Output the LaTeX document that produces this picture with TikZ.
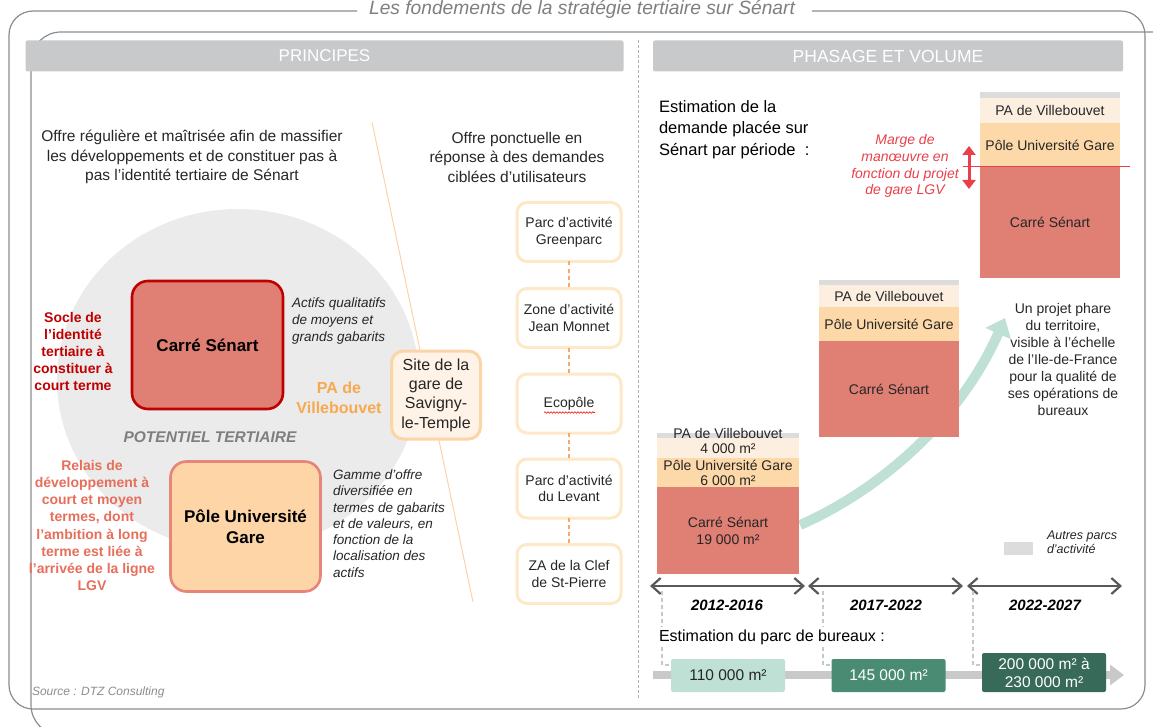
\documentclass[tikz,border=0pt]{standalone}
\usepackage{fontspec}
\setmainfont{Liberation Sans}
\usetikzlibrary{arrows.meta,decorations.pathmorphing,calc}
\definecolor{framegray}{HTML}{8C8C8C}
\definecolor{headgray}{HTML}{C8C9CB}
\definecolor{circlegray}{HTML}{EBEBEB}
\definecolor{salmon}{HTML}{E07F73}
\definecolor{darkred}{HTML}{C00000}
\definecolor{peach}{HTML}{FDD8A8}
\definecolor{pulefill}{HTML}{FDD5A6}
\definecolor{peachborder}{HTML}{E8857A}
\definecolor{paleorange}{HTML}{FDEFE0}
\definecolor{orangetxt}{HTML}{F8A94E}
\definecolor{relais}{HTML}{E66E5A}
\definecolor{siteborder}{HTML}{FCD5A7}
\definecolor{sitefill}{HTML}{FEF3E6}
\definecolor{boxborder}{HTML}{FDE9C7}
\definecolor{dashorange}{HTML}{F5A870}
\definecolor{lineorange}{HTML}{FBD3A8}
\definecolor{margered}{HTML}{E8404A}
\definecolor{mint}{HTML}{BFE0D5}
\definecolor{midgreen}{HTML}{4A8B73}
\definecolor{darkgreen}{HTML}{376A58}
\definecolor{arrowgray}{HTML}{595959}
\definecolor{legendgray}{HTML}{DCDCDC}
\definecolor{txt}{HTML}{262626}
\definecolor{titlegray}{HTML}{7F7F7F}
\definecolor{vdash}{HTML}{C8C8C8}
\newcommand\fsz[2]{\fontsize{#1}{#2}\selectfont}
\begin{document}
\begin{tikzpicture}[x=1pt,y=-1pt,
  every node/.style={inner sep=0pt, outer sep=0pt, text=txt},
  mbox/.style={draw=boxborder, line width=3pt, fill=white, rounded corners=10pt,
    minimum width=104pt, minimum height=59pt, align=center, font=\fsz{14}{16.7}},
  band/.style={minimum width=#1, minimum height=10pt, align=center, font=\fsz{14}{15}},
  yearlab/.style={font=\fsz{15}{18}\bfseries\itshape, text=black},
  parc/.style={rounded corners=2pt, minimum height=33pt, align=center, font=\fsz{15.5}{18}},
  tl/.style={arrowgray, line width=2.2pt, {Straight Barb[length=9pt,width=16pt]}-{Straight Barb[length=9pt,width=16pt]}},
  vd/.style={vdash, line width=1.5pt, dash pattern=on 4pt off 3pt},
]
\useasboundingbox (0,0) rectangle (1153,727);

% ---------- frames ----------
\draw[framegray, line width=1.2pt, rounded corners=24pt]
  (357,11) -- (9,11) -- (9,709) -- (1145,709) -- (1145,11) -- (812,11);
\begin{scope}
  \clip (0,0) rectangle (1153,727);
  \draw[framegray, line width=1.2pt, rounded corners=30pt]
    (1175,32) -- (31,32) -- (31,735) -- (120,735);
\end{scope}
\node[font=\fsz{19.2}{22}\itshape, text=titlegray] (title) at (582,9) {Les fondements de la stratégie tertiaire sur Sénart};

% ---------- headers ----------
\node[fill=headgray, rounded corners=2pt, minimum width=598pt, minimum height=31pt,
  text=white, font=\fsz{17}{20}] (h1) at (324.5,56) {PRINCIPES};
\node[fill=headgray, rounded corners=2pt, minimum width=470pt, minimum height=31pt,
  text=white, font=\fsz{17.5}{20}] (h2) at (888,56) {PHASAGE ET VOLUME};
\coordinate (sepT) at (638,40);
\coordinate (sepB) at (638,700);
\draw[framegray!70, line width=0.9pt, dash pattern=on 3pt off 2pt] (sepT) -- (sepB);

% ---------- left panel ----------
\node[align=center, font=\fsz{15.5}{19.5}] (offre1) at (192,157)
  {Offre régulière et maîtrisée afin de massifier\\les développements et de constituer pas à\\pas l’identité tertiaire de Sénart};
\fill[circlegray] (238,380) ellipse [x radius=181pt, y radius=171pt];
\coordinate (oA) at (372,122);
\coordinate (oB) at (473,602);
\draw[lineorange, line width=1pt] (oA) -- (oB);

\node[draw=darkred, fill=salmon, line width=2.6pt, rounded corners=16pt,
  minimum width=151pt, minimum height=128pt, font=\fsz{17}{20}\bfseries, text=black] (cs) at (207.5,345) {Carré Sénart};
\node[align=center, font=\fsz{14}{17}\bfseries, text=darkred] (socle) at (73,351)
  {Socle de\\l'identité\\tertiaire à\\constituer à\\court terme};
\node[anchor=west, align=left, font=\fsz{13.5}{16.7}\itshape] (actifs) at (292,321)
  {Actifs qualitatifs\\de moyens et\\grands gabarits};
\node[align=center, font=\fsz{16}{20}\bfseries, text=orangetxt] (pav) at (339,398) {PA de\\Villebouvet};
\node[font=\fsz{15.5}{18}\bfseries\itshape, text=titlegray] (pot) at (210,437) {POTENTIEL TERTIAIRE};

\node[draw=peachborder, fill=pulefill, line width=2.6pt, rounded corners=16pt,
  minimum width=150pt, minimum height=130pt, align=center, font=\fsz{17}{20.7}\bfseries, text=black] (pug) at (245.5,526.5)
  {Pôle Université\\Gare};
\node[align=center, font=\fsz{14}{17.1}\bfseries, text=relais] (relais) at (92,525.5)
  {Relais de\\développement à\\court et moyen\\termes, dont\\l’ambition à long\\terme est liée à\\l’arrivée de la ligne\\LGV};
\node[anchor=west, align=left, font=\fsz{13.5}{16.3}\itshape] (gamme) at (333,523.5)
  {Gamme d’offre\\diversifiée en\\termes de gabarits\\et de valeurs, en\\fonction de la\\localisation des\\actifs};

\node[draw=siteborder, fill=sitefill, line width=3pt, rounded corners=12pt,
  minimum width=89pt, minimum height=88pt, align=center, font=\fsz{16}{19.4}] (site) at (436,395)
  {Site de la\\gare de\\Savigny-\\le-Temple};

% ---------- middle column ----------
\node[align=center, font=\fsz{15.5}{19.5}] (offre2) at (517,157)
  {Offre ponctuelle en\\réponse à des demandes\\ciblées d’utilisateurs};
\node[mbox] (b1) at (569,232) {Parc d’activité\\Greenparc};
\node[mbox] (b2) at (569,318) {Zone d’activité\\Jean Monnet};
\node[mbox] (b3) at (569,403.5) {Ecopôle};
\node[mbox] (b4) at (569,488.5) {Parc d’activité\\du Levant};
\node[mbox] (b5) at (569,574) {ZA de la Clef\\de St-Pierre};
\foreach \a/\b in {b1/b2,b2/b3,b3/b4,b4/b5}
  \draw[dashorange, line width=1.1pt, dash pattern=on 4pt off 3pt] (\a.south) -- (\b.north);
\draw[red, line width=0.6pt, decorate, decoration={snake, amplitude=0.8pt, segment length=3pt}]
  ($(b3.center)+(-25,9)$) -- ($(b3.center)+(26,9)$);

% ---------- right panel ----------
\node[anchor=west, align=left, font=\fsz{16.5}{21.3}, text=black] (estim) at (659,129.5)
  {Estimation de la\\demande placée sur\\Sénart par période~~:};

% growth arrow (behind bars)
\coordinate (gA) at (800,525);
\coordinate (gB) at (1005,318);
\draw[mint, line width=10pt, -{Triangle[length=17pt,width=27pt]}]
  (gA) .. controls (880,490) and (960,420) .. (gB);

% bar 3
\fill[legendgray] (980,92) rectangle (1120,98);
\node[band=140pt, fill=paleorange, minimum height=25pt] (c3pa) at (1050,110.5) {PA de Villebouvet};
\node[band=140pt, fill=peach, minimum height=44pt] (c3pu) at (1050,145) {Pôle Université Gare};
\node[band=140pt, fill=salmon, minimum height=111pt] (c3cs) at (1050,222.5) {Carré Sénart};
% bar 2
\fill[legendgray] (819,280) rectangle (959,285);
\node[band=140pt, fill=paleorange, minimum height=22pt] (c2pa) at (889,296) {PA de Villebouvet};
\node[band=140pt, fill=peach, minimum height=34pt] (c2pu) at (889,324) {Pôle Université Gare};
\node[band=140pt, fill=salmon, minimum height=96pt] (c2cs) at (889,389) {Carré Sénart};
% bar 1
\fill[legendgray] (657,433) rectangle (799,438);
\node[band=142pt, fill=paleorange, minimum height=20pt] (c1pa) at (728,448) {};
\node[band=142pt, fill=peach, minimum height=29pt] (c1pu) at (728,472.5) {Pôle Université Gare\\6~000 m²};
\node[band=142pt, fill=salmon, minimum height=87pt, font=\fsz{14}{17}] (c1cs) at (728,530.5) {Carré Sénart\\19~000 m²};
\node[align=center, font=\fsz{14}{15}] (c1pat) at (728,440.5) {PA de Villebouvet\\4~000 m²};

% marge
\draw[margered, line width=1pt] (963,167) -- (1130,167);
\coordinate (mT) at (969,146);
\coordinate (mB) at (969,189);
\draw[margered, line width=3pt, {Triangle[length=9pt,width=13pt]}-{Triangle[length=9pt,width=13pt]}] (mT) -- (mB);
\node[align=center, font=\fsz{14}{16.9}\itshape, text=margered] (marge) at (905,166)
  {Marge de\\manœuvre en\\fonction du projet\\de gare LGV};

\node[align=center, font=\fsz{14}{17}] (phare) at (1063,359.5)
  {Un projet phare\\du territoire,\\visible à l’échelle\\de l’Ile-de-France\\pour la qualité de\\ses opérations de\\bureaux};

\node[fill=legendgray, minimum width=29pt, minimum height=13pt] (leg) at (1018.5,548) {};
\node[anchor=west, align=left, font=\fsz{12.5}{14.4}\itshape] (legt) at (1047,542) {Autres parcs\\d’activité};

% timeline
\coordinate (t1a) at (650,586); \coordinate (t1b) at (805,586);
\coordinate (t2a) at (808,586); \coordinate (t2b) at (963,586);
\coordinate (t3a) at (967,586); \coordinate (t3b) at (1122,586);
\draw[tl] (t1a) -- (t1b);
\draw[tl] (t2a) -- (t2b);
\draw[tl] (t3a) -- (t3b);
\node[yearlab] (y1) at (727,605) {2012-2016};
\node[yearlab] (y2) at (886,605) {2017-2022};
\node[yearlab] (y3) at (1045,605) {2022-2027};

% bottom
\coordinate (ba) at (653,675);
\coordinate (bb) at (1124,675);
\draw[headgray, line width=8pt, -{Triangle[length=14pt,width=20pt]}] (ba) -- (bb);
\node[parc, fill=mint, minimum width=114pt] (p1) at (728,675.5) {110~000 m²};
\node[parc, fill=midgreen, minimum width=114pt, text=white] (p2) at (888.5,675.5) {145~000 m²};
\node[parc, fill=darkgreen, minimum width=124pt, minimum height=39pt, text=white] (p3) at (1044,672.5) {200~000 m² à\\230~000 m²};
\draw[vd] (662,591) -- (662,665) -- (p1.west |- 0,665);
\draw[vd] (823,591) -- (823,665) -- (p2.west |- 0,665);
\draw[vd] (973,591) -- (973,665) -- (p3.west |- 0,665);
\node[anchor=west, fill=white, inner xsep=2pt, inner ysep=3pt, font=\fsz{16}{19}, text=black] (parcbur) at (657,637) {Estimation du parc de bureaux :};

\node[anchor=west, font=\fsz{12}{14}\itshape, text=framegray] (src) at (32,692) {Source : DTZ Consulting};
\end{tikzpicture}
\end{document}
